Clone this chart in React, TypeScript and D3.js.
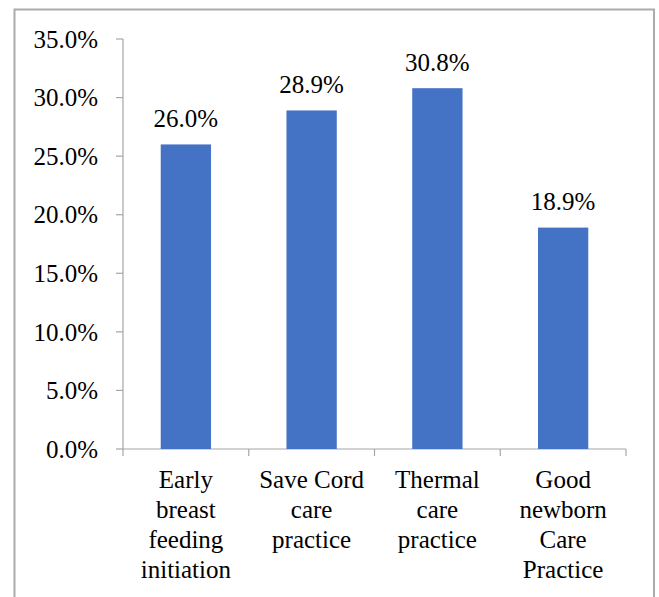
import React from "react";
import * as d3 from "d3";

const categories: string[][] = [
  ["Early", "breast", "feeding", "initiation"],
  ["Save Cord", "care", "practice"],
  ["Thermal", "care", "practice"],
  ["Good", "newborn", "Care", "Practice"],
];
const values = [26.0, 28.9, 30.8, 18.9];
const yTicks = [0, 5, 10, 15, 20, 25, 30, 35];

const W = 659;
const H = 597;
const margin = { top: 39, right: 33, bottom: 148, left: 123 };
const FONT = "Liberation Serif, Tinos, Times New Roman, serif";
const AXIS = "#a6a6a6";

function App() {
  const ids = categories.map((_, i) => String(i));

  const x = d3
    .scaleBand<string>()
    .domain(ids)
    .range([margin.left, W - margin.right])
    .paddingInner(0.6)
    .paddingOuter(0.3);

  const y = d3
    .scaleLinear()
    .domain([0, 35])
    .range([H - margin.bottom, margin.top]);

  const step = x.step();
  const x0 = margin.left;
  const y0 = y(0);
  const txt = { fontFamily: FONT, fontSize: "25px" };

  return (
    <svg
      width={W}
      height={H}
      style={{ position: "absolute", left: 0, top: 0, background: "#fff" }}
    >
      {/* outer frame */}
      <rect x={14.5} y={9.5} width={639.5} height={600} fill="none" stroke="#ababab" strokeWidth={2} />

      {/* y axis */}
      <line x1={x0} x2={x0} y1={y(35)} y2={y0} stroke={AXIS} strokeWidth={1.2} />
      {yTicks.map((t) => (
        <g key={t}>
          <line x1={x0 - 7} x2={x0} y1={y(t)} y2={y(t)} stroke={AXIS} strokeWidth={1.2} />
          <text x={98} y={y(t)} dy="0.35em" textAnchor="end" style={txt} fill="#000">
            {t.toFixed(1)}%
          </text>
        </g>
      ))}

      {/* x axis */}
      <line x1={x0} x2={W - margin.right} y1={y0} y2={y0} stroke={AXIS} strokeWidth={1.2} />
      {d3.range(categories.length + 1).map((i) => (
        <line
          key={i}
          x1={x0 + i * step}
          x2={x0 + i * step}
          y1={y0}
          y2={y0 + 7}
          stroke={AXIS}
          strokeWidth={1.2}
        />
      ))}

      {/* bars */}
      {values.map((v, i) => (
        <rect
          key={i}
          x={x(ids[i])}
          y={y(v)}
          width={x.bandwidth()}
          height={y0 - y(v)}
          fill="#4472C4"
        />
      ))}

      {/* value labels */}
      {values.map((v, i) => (
        <text
          key={i}
          x={(x(ids[i]) as number) + x.bandwidth() / 2}
          y={y(v) - 17.5}
          textAnchor="middle"
          style={txt}
          fill="#000"
        >
          {v.toFixed(1)}%
        </text>
      ))}

      {/* category labels */}
      {categories.map((lines, i) => (
        <text
          key={i}
          x={(x(ids[i]) as number) + x.bandwidth() / 2}
          y={y0 + 39}
          textAnchor="middle"
          style={txt}
          fill="#000"
        >
          {lines.map((l, j) => (
            <tspan key={j} x={(x(ids[i]) as number) + x.bandwidth() / 2} dy={j === 0 ? 0 : 30}>
              {l}
            </tspan>
          ))}
        </text>
      ))}
    </svg>
  );
}

export default App;
